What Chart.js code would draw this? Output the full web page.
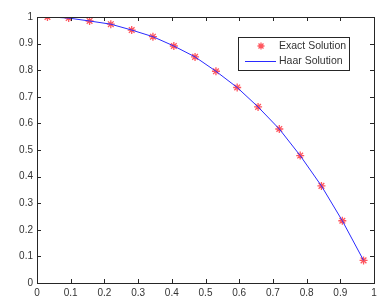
<!DOCTYPE html>
<html>
<head>
<meta charset="utf-8">
<script src="https://cdn.jsdelivr.net/npm/chart.js@4.4.1/dist/chart.umd.min.js"></script>
<style>
  html, body { margin: 0; padding: 0; background: #fff; }
  #wrap { width: 391px; height: 304px; }
</style>
</head>
<body>
<div id="wrap"><canvas id="chart"></canvas></div>
<script>
// values
const exactX = [0.031, 0.094, 0.156, 0.219, 0.281, 0.344, 0.406, 0.469,
  0.531, 0.594, 0.656, 0.719, 0.781, 0.844, 0.906, 0.969];
const exactY = [1.0, 0.996, 0.985, 0.973, 0.951, 0.926, 0.891, 0.850,
  0.796, 0.735, 0.662, 0.579, 0.479, 0.365, 0.234, 0.085];
const haarX = [0.067, 0.094, 0.156, 0.219, 0.281, 0.344, 0.406, 0.469,
  0.531, 0.594, 0.656, 0.719, 0.781, 0.844, 0.906, 0.969];
const haarY = [0.998, 0.996, 0.985, 0.973, 0.951, 0.926, 0.891, 0.850,
  0.796, 0.735, 0.662, 0.579, 0.479, 0.365, 0.234, 0.085];
const tickValues = [0, 0.1, 0.2, 0.3, 0.4, 0.5, 0.6, 0.7, 0.8, 0.9, 1];
const seriesNames = ["Exact Solution", "Haar Solution"];

const FONT = "Liberation Sans, Arial, sans-serif";
const TEXT = "#333";
const MARKER = "rgba(255, 30, 40, 0.75)";
const LINE = "#2a2aff";

function toPoints(xs, ys) {
  return xs.map((x, i) => ({ x: x, y: ys[i] }));
}

function fmt(v) {
  return String(Math.round(v * 10) / 10);
}

// box round the plot with inward ticks on all four sides (matlab style)
const boxPlugin = {
  id: "box",
  afterDraw(chart) {
    const ctx = chart.ctx;
    const a = chart.chartArea;
    const xs = chart.scales.x;
    const ys = chart.scales.y;
    ctx.save();
    ctx.strokeStyle = "#262626";
    ctx.lineWidth = 1;
    ctx.strokeRect(Math.round(a.left) + 0.5, Math.round(a.top) + 0.5,
      Math.round(a.right - a.left), Math.round(a.bottom - a.top));
    ctx.beginPath();
    tickValues.forEach(v => {
      const px = Math.round(xs.getPixelForValue(v)) + 0.5;
      ctx.moveTo(px, a.bottom); ctx.lineTo(px, a.bottom - 4);
      ctx.moveTo(px, a.top); ctx.lineTo(px, a.top + 4);
      const py = Math.round(ys.getPixelForValue(v)) + 0.5;
      ctx.moveTo(a.left, py); ctx.lineTo(a.left + 4, py);
      ctx.moveTo(a.right, py); ctx.lineTo(a.right - 4, py);
    });
    ctx.stroke();
    ctx.restore();
  }
};

// legend box inside the axes, upper right
const legendPlugin = {
  id: "innerLegend",
  afterDraw(chart) {
    const ctx = chart.ctx;
    const a = chart.chartArea;
    const left = a.right - 136, top = a.top + 20, w = 111, h = 33;
    ctx.save();
    ctx.fillStyle = "#fff";
    ctx.fillRect(left, top, w, h);
    ctx.strokeStyle = "#262626";
    ctx.lineWidth = 1;
    ctx.strokeRect(left + 0.5, top + 0.5, w, h);

    // star marker
    const mx = left + 23, my = top + 9;
    ctx.strokeStyle = MARKER;
    ctx.lineWidth = 1.3;
    ctx.beginPath();
    ctx.moveTo(mx - 3.5, my); ctx.lineTo(mx + 3.5, my);
    ctx.moveTo(mx, my - 3.5); ctx.lineTo(mx, my + 3.5);
    ctx.moveTo(mx - 2.5, my - 2.5); ctx.lineTo(mx + 2.5, my + 2.5);
    ctx.moveTo(mx - 2.5, my + 2.5); ctx.lineTo(mx + 2.5, my - 2.5);
    ctx.stroke();

    // line sample
    ctx.strokeStyle = LINE;
    ctx.lineWidth = 1;
    ctx.beginPath();
    ctx.moveTo(left + 7, top + 24.5); ctx.lineTo(left + 38, top + 24.5);
    ctx.stroke();

    ctx.fillStyle = TEXT;
    ctx.font = "10.5px " + FONT;
    ctx.textBaseline = "middle";
    ctx.fillText(seriesNames[0], left + 41, my);
    ctx.fillText(seriesNames[1], left + 41, top + 24);
    ctx.restore();
  }
};

new Chart(document.getElementById("chart"), {
  type: "scatter",
  data: {
    datasets: [
      {
        label: seriesNames[1],
        data: toPoints(haarX, haarY),
        showLine: true,
        borderColor: LINE,
        borderWidth: 1,
        pointRadius: 0,
        fill: false,
        tension: 0
      },
      {
        label: seriesNames[0],
        data: toPoints(exactX, exactY),
        showLine: false,
        pointStyle: "star",
        pointRadius: 4,
        borderColor: MARKER,
        backgroundColor: MARKER,
        pointBorderWidth: 1.3
      }
    ]
  },
  options: {
    responsive: true,
    maintainAspectRatio: false,
    animation: false,
    layout: { padding: { top: 17, right: 17, left: 0, bottom: 0 } },
    plugins: {
      legend: { display: false },
      tooltip: { enabled: false }
    },
    scales: {
      x: {
        type: "linear",
        min: 0,
        max: 1,
        afterBuildTicks: s => { s.ticks = tickValues.map(v => ({ value: v })); },
        afterFit: s => { s.height = 21; },
        grid: { display: false, drawTicks: false },
        border: { display: false },
        ticks: {
          padding: 4,
          color: TEXT,
          font: { family: FONT, size: 10 },
          maxRotation: 0,
          callback: v => fmt(v)
        }
      },
      y: {
        type: "linear",
        min: 0,
        max: 1,
        afterBuildTicks: s => { s.ticks = tickValues.map(v => ({ value: v })); },
        afterFit: s => { s.width = 37; },
        grid: { display: false, drawTicks: false },
        border: { display: false },
        ticks: {
          padding: 4,
          color: TEXT,
          font: { family: FONT, size: 10 },
          callback: v => fmt(v)
        }
      }
    }
  },
  plugins: [boxPlugin, legendPlugin]
});
</script>
</body>
</html>
